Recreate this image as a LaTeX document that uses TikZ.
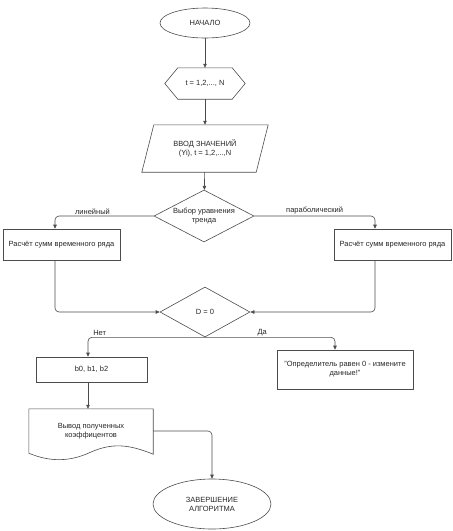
\documentclass[tikz,border=0pt]{standalone}
\usepackage{fontspec}
\setmainfont{Liberation Sans}
\usetikzlibrary{shapes.geometric,arrows.meta}
\begin{document}
\begin{tikzpicture}[x=1pt,y=-1pt,
  line/.style={draw=black!70, line width=0.6pt},
  arr/.style={line, -{Triangle[length=4pt,width=3.5pt]}, rounded corners=4pt},
  base/.style={font=\fontsize{7.5}{9}\selectfont, align=center, inner sep=0pt, text=black!85},
  term/.style={base, ellipse, line},
  proc/.style={base, rectangle, line},
  dec/.style={base, diamond, line, shape aspect=2},
  plain/.style={base, rectangle},
  lbl/.style={font=\fontsize{7.5}{9}\selectfont, inner sep=1.5pt, text=black!85}
]
\useasboundingbox (0,0) rectangle (453,531);

% nodes
\node[term, minimum width=90pt, minimum height=30pt] (start) at (205,23) {НАЧАЛО};
\node[plain, minimum width=80pt, minimum height=31pt] (loop) at (205,83.5) {t = 1,2,..., N};
\node[plain, minimum width=114pt, minimum height=47pt] (inp) at (205,148.5) {ВВОД ЗНАЧЕНИЙ\\(Yi), t = 1,2,...,N};
\node[dec, minimum width=100pt, minimum height=52pt] (sel) at (204,216) {Выбор уравнения\\тренда};
\node[proc, minimum width=117pt, minimum height=31pt] (lsum) at (61.5,244.5) {Расчёт сумм временного ряда};
\node[proc, minimum width=117pt, minimum height=31pt] (rsum) at (392.5,244.5) {Расчёт сумм временного ряда};
\node[dec, minimum width=90pt, minimum height=50pt] (chk) at (205,312) {D = 0};
\node[proc, minimum width=111pt, minimum height=25pt] (coef) at (91.5,369.5) {b0, b1, b2};
\node[proc, minimum width=136pt, minimum height=39pt] (msg) at (345,369.5) {"Определитель равен 0 - измените\\данные!"};
\node[plain, minimum width=124pt, minimum height=44pt] (out) at (91,431) {Вывод полученных\\коэффицентов};
\node[term, minimum width=118pt, minimum height=50pt] (fin) at (212,504) {ЗАВЕРШЕНИЕ\\АЛГОРИТМА};

% custom outlines
\draw[line] (loop.west) -- ([xshift=13pt]loop.north west) -- ([xshift=-13pt]loop.north east)
  -- (loop.east) -- ([xshift=-13pt]loop.south east) -- ([xshift=13pt]loop.south west) -- cycle;
\draw[line] ([xshift=6pt]inp.north west) -- ([xshift=6pt]inp.north east)
  -- ([xshift=-6pt]inp.south east) -- ([xshift=-6pt]inp.south west) -- cycle;
\draw[line] (out.south west) -- (out.north west) -- (out.north east) -- ([yshift=-1pt]out.south east)
  .. controls (128,444) and (112,443) .. (91,452)
  .. controls (70,462) and (50,462) .. (out.south west) -- cycle;

% connectors
\draw[arr] (start) -- (loop);
\draw[arr] (loop) -- (inp);
\draw[arr] (inp) -- (sel);
\draw[arr] (sel.west) -| ([xshift=-6.5pt]lsum.north) node[lbl, pos=0.31, above] {линейный};
\draw[arr] (sel.east) -| ([xshift=-17.5pt]rsum.north) node[lbl, pos=0.25, above] {параболический};
\draw[arr] (chk.south) -| ([xshift=-3.5pt]coef.north) node[lbl, pos=0.45, above] {Нет};
\draw[arr] (chk.south) -| ([xshift=-10pt]msg.north) node[lbl, pos=0.22, above] {Да};
\draw[arr] ([xshift=-6.5pt]lsum.south) |- (chk.west);
\draw[arr] ([xshift=-17.5pt]rsum.south) |- (chk.east);
\draw[arr] ([xshift=-3.5pt]coef.south) -- ([xshift=-3.5pt]coef.south |- out.north);
\draw[arr] (out.east) -| (fin.north);
\end{tikzpicture}
\end{document}
